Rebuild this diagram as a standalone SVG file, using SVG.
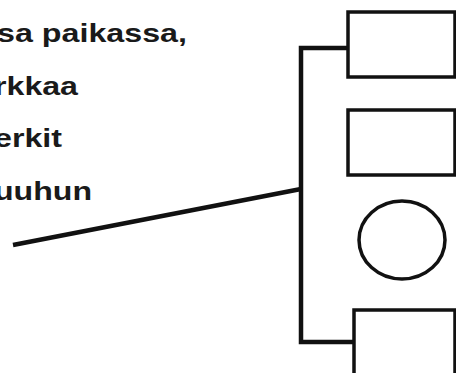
<svg xmlns="http://www.w3.org/2000/svg" width="456" height="373" viewBox="0 0 456 373">
<style>
.t{font-family:"Liberation Sans",Arial,sans-serif;font-size:26px;font-weight:bold;fill:#1a1a1a}
.s{fill:none;stroke:#111;stroke-width:3.5}
.c{fill:none;stroke:#111;stroke-width:4.5}
</style>
<rect width="456" height="373" fill="#fff"/>
<g id="label">
<text class="t" x="-3" y="42" textLength="190" lengthAdjust="spacingAndGlyphs">sa paikassa,</text>
<text class="t" x="-6" y="95" textLength="84" lengthAdjust="spacingAndGlyphs">rkkaa</text>
<text class="t" x="-6" y="147" textLength="68" lengthAdjust="spacingAndGlyphs">erkit</text>
<text class="t" x="-6" y="200" textLength="98" lengthAdjust="spacingAndGlyphs">uuhun</text>
</g>
<g id="connectors">
<polyline class="c" points="348,48 301,48 301,342 354,342"/>
<line class="c" x1="13" y1="245" x2="301" y2="189"/>
</g>
<g id="node1"><rect class="s" x="348" y="12" width="107" height="65"/></g>
<g id="node2"><rect class="s" x="348" y="110" width="107" height="65"/></g>
<g id="node3"><ellipse class="s" cx="402" cy="240" rx="43" ry="39"/></g>
<g id="node4"><rect class="s" x="354" y="310" width="101" height="70"/></g>
</svg>
